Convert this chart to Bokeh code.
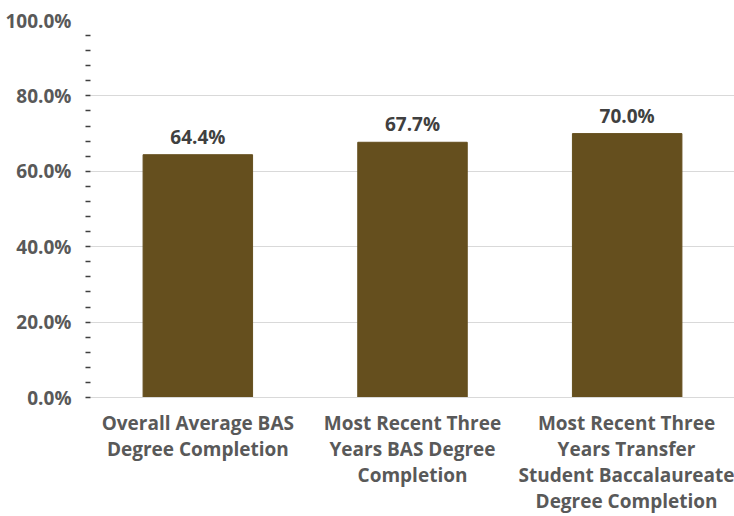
from bokeh.plotting import figure
from bokeh.models import ColumnDataSource, FixedTicker, NumeralTickFormatter, Range1d, LabelSet
from bokeh.core.properties import value
from bokeh.embed import file_html
from bokeh.resources import INLINE

categories = [
    "Overall Average BAS\nDegree Completion",
    "Most Recent Three\nYears BAS Degree\nCompletion",
    "Most Recent Three\nYears Transfer\nStudent Baccalaureate\nDegree Completion",
]
rates = [0.644, 0.677, 0.700]
rate_labels = ["64.4%", "67.7%", "70.0%"]
y_ticks = [0.0, 0.2, 0.4, 0.6, 0.8, 1.0]

src = ColumnDataSource(dict(cat=categories, rate=rates, lab=rate_labels))

p = figure(x_range=categories, y_range=Range1d(0, 1.0), width=734, height=516,
           output_backend="svg", toolbar_location=None,
           min_border_left=90, min_border_right=0, min_border_top=20, min_border_bottom=119)
p.outline_line_color = None
p.background_fill_color = "white"
p.border_fill_color = "white"

p.vbar(x="cat", top="rate", width=0.51, source=src, fill_color="#654f1e", line_color="#654f1e")

labels = LabelSet(x="cat", y="rate", text="lab", source=src, text_align="center",
                  text_baseline="bottom", y_offset=5, text_font=value("Open Sans"),
                  text_font_style="bold", text_font_size="19px", text_color="#404040")
p.add_layout(labels)

minor = [i * 0.04 for i in range(25)]
p.yaxis.ticker = FixedTicker(ticks=y_ticks, minor_ticks=minor)
p.yaxis.formatter = NumeralTickFormatter(format="0.0%")
p.yaxis.axis_line_color = None
p.yaxis.major_tick_line_color = None
p.yaxis.minor_tick_line_color = "#404040"
p.yaxis.major_tick_in = 0
p.yaxis.major_tick_out = 5
p.yaxis.minor_tick_in = 0
p.yaxis.minor_tick_out = 5
p.yaxis.minor_tick_line_width = 1.5
p.yaxis.major_label_text_font = "Open Sans"
p.yaxis.major_label_text_font_style = "bold"
p.yaxis.major_label_text_font_size = "19px"
p.yaxis.major_label_text_color = "#595959"
p.yaxis.major_label_standoff = 14

p.ygrid.ticker = FixedTicker(ticks=y_ticks[:-1])
p.ygrid.grid_line_color = "#d9d9d9"
p.xgrid.grid_line_color = None

p.xaxis.axis_line_color = "#d9d9d9"
p.xaxis.major_tick_line_color = None
p.xaxis.minor_tick_line_color = None
p.xaxis.major_label_text_font = "Open Sans"
p.xaxis.major_label_text_font_style = "bold"
p.xaxis.major_label_text_font_size = "19px"
p.xaxis.major_label_text_color = "#595959"
p.xaxis.major_label_text_line_height = 1.0
p.xaxis.major_label_standoff = 6

open("out.html", "w").write(file_html(p, INLINE))
